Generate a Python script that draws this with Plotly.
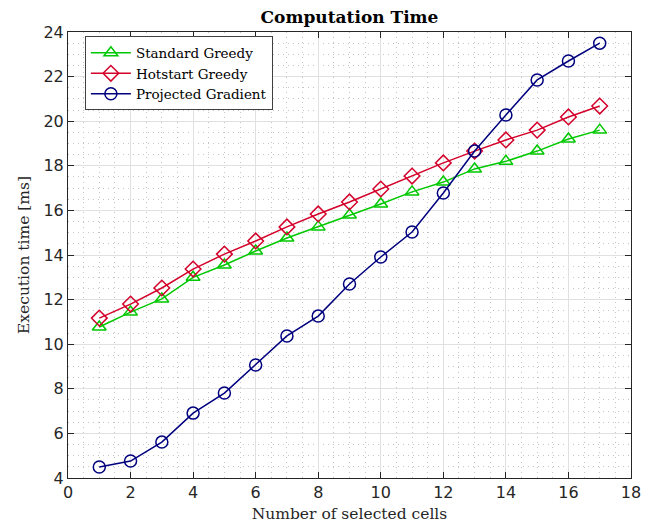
import plotly.graph_objects as go

x_cells = list(range(1, 18))
standard_greedy = [10.77, 11.44, 12.03, 13.0, 13.55, 14.18, 14.76, 15.26, 15.79, 16.29, 16.83, 17.27, 17.86, 18.2, 18.66, 19.2, 19.6]
hotstart_greedy = [11.17, 11.8, 12.52, 13.37, 14.04, 14.63, 15.26, 15.84, 16.38, 16.96, 17.54, 18.13, 18.66, 19.16, 19.6, 20.19, 20.68]
projected_gradient = [4.49, 4.76, 5.61, 6.91, 7.81, 9.07, 10.37, 11.26, 12.7, 13.91, 15.03, 16.78, 18.66, 20.28, 21.85, 22.7, 23.5]

series_names = ["Standard Greedy", "Hotstart Greedy", "Projected Gradient"]
x_ticks = list(range(0, 19, 2))
y_ticks = list(range(4, 25, 2))

serif = "DejaVu Serif, Liberation Serif, serif"
sans = "DejaVu Sans, Liberation Sans, sans-serif"

fig = go.Figure()
styles = [
    (standard_greedy, "#00c800", "triangle-up-open"),
    (hotstart_greedy, "#d4002a", "diamond-open"),
    (projected_gradient, "#00007f", "circle-open"),
]
for name, (vals, color, sym) in zip(series_names, styles):
    fig.add_trace(go.Scatter(
        x=x_cells, y=vals, name=name, mode="lines+markers",
        line=dict(color=color, width=1.5),
        marker=dict(symbol=sym, size=12, color=color, line=dict(color=color, width=1.5)),
    ))

axis_common = dict(
    showline=True, linecolor="#262626", linewidth=1, mirror="allticks",
    ticks="inside", ticklen=6, tickcolor="#262626",
    showgrid=True, gridcolor="#e0e0e0", gridwidth=1,
    zeroline=False,
    tickfont=dict(family=sans, size=16, color="#262626"),
    minor=dict(dtick=0.5, showgrid=True, gridcolor="#c4c4c4", griddash="1px,4px", gridwidth=1, ticks=""),
)

fig.update_layout(
    width=657, height=529,
    margin=dict(l=60, r=34, t=24, b=59),
    paper_bgcolor="white", plot_bgcolor="white",
    title=dict(text="<b>Computation Time</b>", x=0.5, xanchor="center", xref="paper", y=0.995, yref="container", yanchor="top",
               font=dict(family=serif, size=17, color="black")),
    xaxis=dict(range=[0, 18], tickvals=x_ticks,
               title=dict(text="Number of selected cells", font=dict(family=serif, size=15.5, color="#262626"), standoff=6),
               **axis_common),
    yaxis=dict(range=[4, 24], tickvals=y_ticks,
               title=dict(text="Execution time [ms]", font=dict(family=serif, size=15.5, color="#262626"), standoff=10),
               **axis_common),
    legend=dict(x=0.03, y=0.99, xanchor="left", yanchor="top",
                bgcolor="white", bordercolor="#404040", borderwidth=1,
                font=dict(family=serif, size=13.5, color="black"),
                tracegroupgap=0, itemwidth=40),
    showlegend=True,
)

fig.write_html("out.html")
